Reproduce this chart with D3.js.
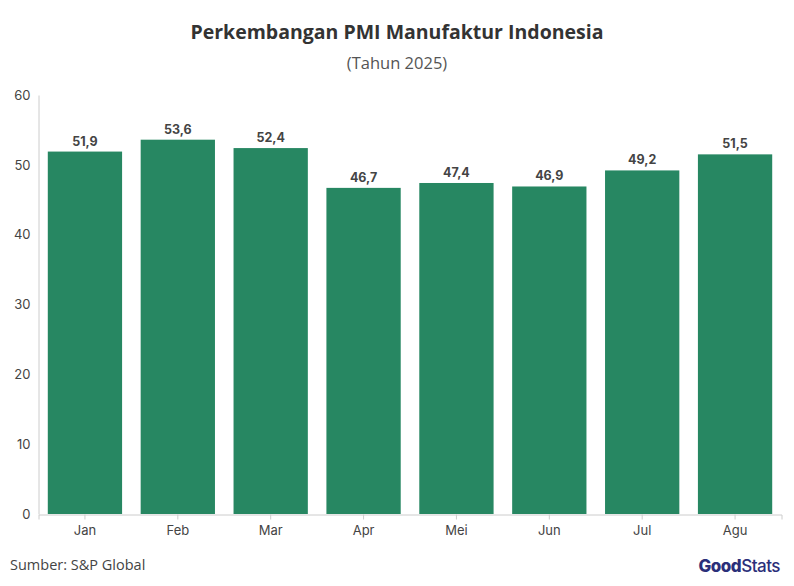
<!DOCTYPE html>
<html><head><meta charset="utf-8">
<script src="https://cdn.jsdelivr.net/npm/d3@7"></script>
<style>body{margin:0;background:#fff}svg{font-family:"Source Sans Pro","Open Sans",sans-serif}</style>
</head><body><svg id="c" width="794" height="586"></svg>
<script>
const categories=["Jan","Feb","Mar","Apr","Mei","Jun","Jul","Agu"];
const values=[51.9,53.6,52.4,46.7,47.4,46.9,49.2,51.5];
const yTicks=[0,10,20,30,40,50,60];
const svg=d3.select("#c");
const x=d3.scaleBand().domain(categories).range([38.5,781.5]).paddingInner(0.2).paddingOuter(0.1);
const y=d3.scaleLinear().domain([0,60]).range([514,95]);
svg.append("text").attr("x",397).attr("y",39).attr("text-anchor","middle").attr("font-size",19.5).attr("font-weight",700).attr("fill","#333").text("Perkembangan PMI Manufaktur Indonesia");
svg.append("text").attr("x",397).attr("y",69).attr("text-anchor","middle").attr("font-size",16.5).attr("fill","#555").text("(Tahun 2025)");
const ya=svg.append("g").attr("transform","translate(38.5,0)").call(d3.axisLeft(y).tickValues(yTicks).tickSize(0).tickPadding(8));
ya.select(".domain").attr("stroke","#ccc");
ya.selectAll("text").attr("font-size",13).attr("fill","#444").attr("font-family","Inter,sans-serif");
const xa=svg.append("g").attr("transform","translate(0,514.5)").call(d3.axisBottom(x).tickSize(5).tickPadding(6));
xa.select(".domain").attr("stroke","#ccc");xa.selectAll("line").attr("stroke","#ccc");
xa.selectAll("text").attr("font-size",13).attr("fill","#444").attr("font-family","Inter,sans-serif");
svg.selectAll("rect.b").data(values).join("rect").attr("class","b")
 .attr("x",(d,i)=>x(categories[i])).attr("width",x.bandwidth())
 .attr("y",d=>y(d)).attr("height",d=>y(0)-y(d)).attr("fill","#278762");
svg.selectAll("text.v").data(values).join("text").attr("class","v")
 .attr("x",(d,i)=>x(categories[i])+x.bandwidth()/2).attr("y",d=>y(d)-6)
 .attr("text-anchor","middle").attr("font-size",12.5).attr("font-weight",700).attr("fill","#444").attr("font-family","Inter,sans-serif")
 .text(d=>d.toFixed(1).replace(".",","));
svg.append("text").attr("x",10).attr("y",570).attr("font-size",14.5).attr("fill","#444").text("Sumber: S&P Global");
const lg=svg.append("text").attr("x",780).attr("y",572).attr("text-anchor","end").attr("font-size",17).attr("font-weight",800).attr("fill","#2b2f7a").attr("font-family","Inter,sans-serif").attr("letter-spacing",-0.5);
lg.append("tspan").text("Good");lg.append("tspan").attr("font-weight",500).text("Stats");
</script></body></html>
